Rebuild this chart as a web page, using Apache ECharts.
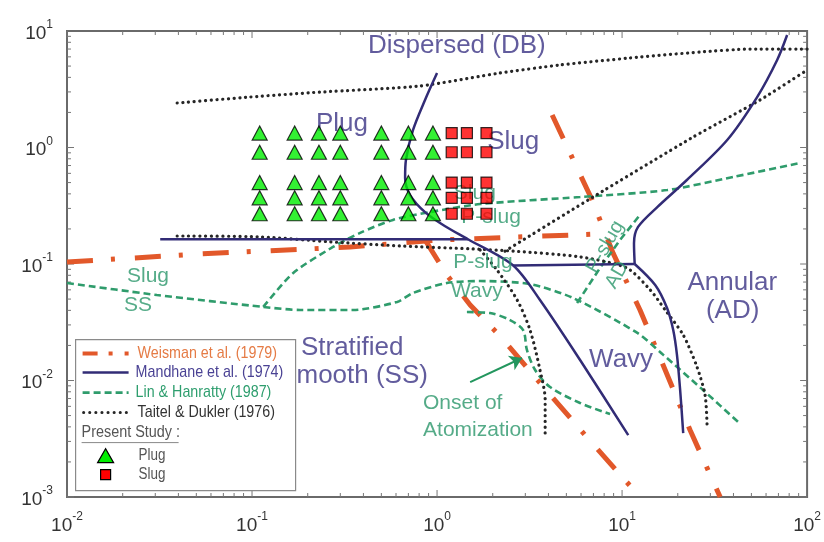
<!DOCTYPE html>
<html>
<head>
<meta charset="utf-8">
<script src="https://cdn.jsdelivr.net/npm/echarts@6/dist/echarts.min.js"></script>
<style>
  html, body { margin: 0; padding: 0; background: #fff; }
  #chart { width: 824px; height: 542px; }
</style>
</head>
<body>
<div id="chart"></div>
<script>
// ---- Axis decades (labels drawn as 10^n) ----
const xTickExponents = [-2, -1, 0, 1, 2];
const yTickExponents = [-3, -2, -1, 0, 1];

// ---- Weisman et al. (1979) boundaries ----
const weismanStratified = [[0.01, 0.104], [0.0524, 0.122], [0.339, 0.140], [1.04, 0.161], [7.6, 0.181]];
const weismanWavy = [[0.861, 0.161], [1.13, 0.0805], [1.51, 0.0445], [2.19, 0.0241], [3.60, 0.00953], [6.31, 0.0034], [12.5, 0.001]];
const weismanAnnular = [[4.19, 1.90], [6.89, 0.354], [8.94, 0.124], [12.5, 0.0403], [17.1, 0.0123], [23.3, 0.00376], [33.9, 0.001]];

// ---- Mandhane et al. (1974) boundaries ----
const mandhaneStratified = [[0.0319, 0.163], [1.47, 0.163]];
const mandhanePlugSlug = [[1.0, 4.36], [0.861, 2.56], [0.741, 1.41], [0.679, 0.782], [0.672, 0.547], [0.715, 0.391], [0.861, 0.279], [1.10, 0.212], [1.47, 0.163], [2.58, 0.097], [3.60, 0.0491], [5.93, 0.015], [10.8, 0.0034]];
const mandhaneSlugWavy = [[2.58, 0.097], [11.7, 0.100]];
const mandhaneAnnularUpper = [[11.7, 0.100], [11.6, 0.151], [12.2, 0.208], [15.5, 0.308], [22.4, 0.526], [37.0, 1.16], [53.7, 2.71], [68.9, 5.64], [78.0, 9.24]];
const mandhaneAnnularLower = [[11.7, 0.100], [15.1, 0.066], [17.5, 0.0419], [18.9, 0.0271], [19.8, 0.0166], [20.6, 0.00828], [21.4, 0.00354]];

// ---- Lin & Hanratty (1987) boundaries ----
const linStratified = [[0.01, 0.0687], [0.0306, 0.0542], [0.115, 0.0428], [0.182, 0.0403], [0.352, 0.0403], [0.608, 0.0472], [0.741, 0.0564], [1.13, 0.0687], [1.71, 0.0714], [3.18, 0.0673], [5.43, 0.0511], [12.1, 0.0256], [16.7, 0.0166], [27.4, 0.00828], [43.5, 0.00424]];
const linSlug = [[0.115, 0.0428], [0.167, 0.0838], [0.274, 0.140], [0.384, 0.185], [0.578, 0.239], [0.916, 0.279], [1.71, 0.327], [5.93, 0.376], [17.5, 0.431], [39.8, 0.558], [91.6, 0.736]];
const linAtomization = [[1.45, 0.0387], [1.93, 0.0379], [2.48, 0.033], [2.92, 0.0271], [3.06, 0.0183], [3.39, 0.0123], [4.08, 0.00879], [5.93, 0.00641], [8.61, 0.00515]];
const linPslugAnnular = [[5.71, 0.0462], [7.6, 0.0925], [9.75, 0.161], [12.5, 0.264]];

// ---- Taitel & Dukler (1976) boundaries ----
const taitelDispersed = [[0.0394, 2.41], [0.0975, 2.71], [0.233, 2.99], [0.809, 3.37], [2.19, 4.36], [4.62, 5.11], [11.0, 5.86], [26.4, 6.6], [49.2, 7.0], [100, 7.0]];
const taitelStratified = [[0.0394, 0.174], [0.110, 0.171], [0.264, 0.155], [0.631, 0.143], [1.51, 0.135], [2.58, 0.129], [5.93, 0.115], [10.6, 0.0925], [14.2, 0.0598], [17.1, 0.0403], [21.4, 0.0246], [25.4, 0.0131], [28.1, 0.0075], [28.8, 0.00415]];
const taitelAnnular = [[2.33, 0.129], [6.97, 0.376], [24.2, 1.23], [55.7, 2.56], [100, 4.62]];
const taitelWavy = [[1.71, 0.132], [2.11, 0.0887], [2.71, 0.0491], [3.18, 0.0271], [3.60, 0.0123], [3.84, 0.00681], [3.84, 0.00354]];

// ---- Present study test points ----
const plugX = [0.11, 0.17, 0.23, 0.30, 0.50, 0.70, 0.95];
const slugX = [1.2, 1.45, 1.85];
const pointY = [1.33, 0.91, 0.50, 0.37, 0.27];

// ---- Legend entries ----
const legendNames = ['Weisman et al. (1979)', 'Mandhane et al. (1974)', 'Lin & Hanratty (1987)', 'Taitel & Dukler (1976)'];
const studyNames = ['Present Study :', 'Plug', 'Slug'];

// ---- Colours ----
const C_ORANGE = '#e2582a';
const C_NAVY = '#322c76';
const C_NAVY_TXT = '#3b3385';
const C_GREEN = '#2f9c6c';
const C_GREEN_TXT = '#2a966a';
const C_DOT = '#262626';

const SANS = "'Liberation Sans', Arial, sans-serif";

function grid(arr) {
  const out = [];
  for (const y of pointY) for (const x of arr) out.push([x, y]);
  return out;
}

function expLabel(list) {
  return function (v) {
    const e = Math.round(Math.log10(v));
    if (list.indexOf(e) < 0) return '';
    return '{b|10}{s|' + e + '}';
  };
}

function lineSeries(data, color, width, dash, smooth, cap) {
  return {
    type: 'line', data: data, showSymbol: false, symbol: 'none', smooth: smooth || false,
    silent: true, z: 3,
    lineStyle: { color: color, width: width, type: dash, cap: cap || 'butt' }
  };
}

const DASHDOT = [26, 18, 4, 20];
const DASHED = [7, 4];
const DOTTED = [0.1, 5.6];

// annotation texts anchored in data space
function txt(text, x, y, color, size, extra) {
  return { value: [x, y], label: Object.assign({ formatter: text, color: color, fontSize: size, fontFamily: SANS }, extra || {}) };
}
const annotations = [
  txt('Dispersed (DB)', 1.28, 7.43, C_NAVY_TXT, 26),
  txt('Plug', 0.306, 1.59, C_NAVY_TXT, 26),
  txt('Slug', 2.58, 1.11, C_NAVY_TXT, 26),
  txt('Annular', 39.4, 0.0687, C_NAVY_TXT, 26),
  txt('(AD)', 39.6, 0.0396, C_NAVY_TXT, 26),
  txt('Wavy', 9.88, 0.015, C_NAVY_TXT, 26),
  txt('Stratified', 0.348, 0.019, C_NAVY_TXT, 26),
  txt('Smooth (SS)', 0.893, 0.0109, C_NAVY_TXT, 26, { align: 'right' }),
  txt('Slug', 0.0274, 0.0789, C_GREEN_TXT, 21),
  txt('SS', 0.0242, 0.0445, C_GREEN_TXT, 21),
  txt('Slug', 1.60, 0.406, C_GREEN_TXT, 21),
  txt('P-slug', 1.96, 0.253, C_GREEN_TXT, 21),
  txt('P-slug', 1.77, 0.104, C_GREEN_TXT, 21),
  txt('Wavy', 1.64, 0.0586, C_GREEN_TXT, 21),
  txt('P-slug', 8.09, 0.14, C_GREEN_TXT, 20, { rotate: 60 }),
  txt('AD', 9.4, 0.0805, C_GREEN_TXT, 20, { rotate: 60 }),
  txt('Onset of', 0.84, 0.00641, C_GREEN_TXT, 21, { align: 'left' }),
  txt('Atomization', 0.84, 0.00376, C_GREEN_TXT, 21, { align: 'left' })
];

const chart = echarts.init(document.getElementById('chart'), null, { renderer: 'canvas' });

const axisRich = {
  b: { fontSize: 19, color: '#333', fontFamily: SANS, lineHeight: 24, verticalAlign: 'bottom' },
  s: { fontSize: 12, color: '#333', fontFamily: SANS, verticalAlign: 'top', lineHeight: 14 }
};

// legend box sits above the plot layers
const LZ = 100;
function legText(x, y, text, fill, size, sx) {
  return { type: 'text', x: x, y: y, z: LZ + 2, scaleX: sx || 0.84, style: { text: text, fill: fill, font: (size || 17) + "px 'Liberation Sans', Arial, sans-serif", verticalAlign: 'middle' } };
}
function legShape(el) { el.z = LZ + 1; return el; }

const option = {
  animation: false,
  backgroundColor: '#ffffff',
  grid: { left: 67, right: 16, top: 31, bottom: 45, show: true, borderColor: '#6a6a6a', borderWidth: 2, backgroundColor: 'transparent' },
  xAxis: {
    type: 'log', logBase: 10, min: 0.01, max: 100, splitNumber: 4,
    axisLine: { show: false }, axisTick: { show: false }, splitLine: { show: false },
    axisLabel: { formatter: expLabel(xTickExponents), margin: 14, rich: axisRich }
  },
  yAxis: {
    type: 'log', logBase: 10, min: 0.001, max: 10, splitNumber: 4,
    axisLine: { show: false }, axisTick: { show: false }, splitLine: { show: false },
    axisLabel: { formatter: expLabel(yTickExponents), margin: 14, rich: axisRich }
  },
  series: [
    // tick marks on all four sides of the frame
    {
      type: 'custom', data: [[1, 1]], silent: true, z: 1,
      renderItem: function (params, api) {
        const cs = params.coordSys;
        const L = cs.x, T = cs.y, R = cs.x + cs.width, B = cs.y + cs.height;
        const st = { stroke: '#777', lineWidth: 1 };
        const kids = [];
        for (let e = -2; e < 2; e++) {
          for (let m = 1; m < 10; m++) {
            const px = api.coord([m * Math.pow(10, e), 1])[0];
            const len = m === 1 ? 7 : 4;
            kids.push({ type: 'line', shape: { x1: px, y1: B, x2: px, y2: B - len }, style: st });
            kids.push({ type: 'line', shape: { x1: px, y1: T, x2: px, y2: T + len }, style: st });
          }
        }
        for (let e = -3; e < 1; e++) {
          for (let m = 1; m < 10; m++) {
            const py = api.coord([1, m * Math.pow(10, e)])[1];
            const len = m === 1 ? 7 : 4;
            kids.push({ type: 'line', shape: { x1: L, y1: py, x2: L + len, y2: py }, style: st });
            kids.push({ type: 'line', shape: { x1: R, y1: py, x2: R - len, y2: py }, style: st });
          }
        }
        return { type: 'group', children: kids };
      }
    },
    lineSeries(weismanStratified, C_ORANGE, 5, DASHDOT),
    lineSeries(weismanWavy, C_ORANGE, 5, DASHDOT),
    lineSeries(weismanAnnular, C_ORANGE, 5, DASHDOT),
    lineSeries(linStratified, C_GREEN, 2.6, DASHED, 0.25),
    lineSeries(linSlug, C_GREEN, 2.6, DASHED, 0.25),
    lineSeries(linAtomization, C_GREEN, 2.6, DASHED, 0.3),
    lineSeries(linPslugAnnular, C_GREEN, 2.6, DASHED),
    lineSeries(taitelDispersed, C_DOT, 3.2, DOTTED, 0.2, 'round'),
    lineSeries(taitelStratified, C_DOT, 3.2, DOTTED, 0.25, 'round'),
    lineSeries(taitelAnnular, C_DOT, 3.2, DOTTED, 0.2, 'round'),
    lineSeries(taitelWavy, C_DOT, 3.2, DOTTED, 0.3, 'round'),
    lineSeries(mandhaneStratified, C_NAVY, 2.5, 'solid'),
    lineSeries(mandhanePlugSlug, C_NAVY, 2.5, 'solid', 0.3),
    lineSeries(mandhaneSlugWavy, C_NAVY, 2.5, 'solid'),
    lineSeries(mandhaneAnnularUpper, C_NAVY, 2.5, 'solid', 0.3),
    lineSeries(mandhaneAnnularLower, C_NAVY, 2.5, 'solid', 0.3),
    // region / boundary labels
    {
      type: 'scatter', data: annotations, symbolSize: 1, silent: true, z: 4,
      itemStyle: { color: 'rgba(0,0,0,0)' },
      label: { show: true, position: 'inside' },
      labelLayout: { hideOverlap: false }
    },
    // arrow to onset-of-atomization curve
    {
      type: 'lines', coordinateSystem: 'cartesian2d', silent: true, z: 4,
      symbol: ['none', 'arrow'], symbolSize: 12,
      lineStyle: { color: '#23965e', width: 2, opacity: 1, curveness: 0 },
      data: [{ coords: [[1.51, 0.0097], [2.88, 0.0156]] }]
    },
    {
      name: 'Plug', type: 'scatter', data: grid(plugX), symbol: 'triangle', symbolSize: [15, 14], z: 6,
      itemStyle: { color: '#00ee00', borderColor: '#000', borderWidth: 1.2 }
    },
    {
      name: 'Slug', type: 'scatter', data: grid(slugX), symbol: 'rect', symbolSize: 11, z: 6,
      itemStyle: { color: '#ff0000', borderColor: '#000', borderWidth: 1.2 }
    }
  ],
  graphic: [{
    type: 'group', left: 75, top: 339, z: LZ,
    children: [
      legShape({ type: 'rect', shape: { x: 0, y: 0, width: 220, height: 151 }, style: { fill: '#fff', stroke: '#8a8a8a', lineWidth: 1.2 } }),
      legShape({ type: 'line', shape: { x1: 7, y1: 14, x2: 55, y2: 14 }, style: { stroke: C_ORANGE, lineWidth: 4, lineDash: [15, 11, 4, 12, 4, 100] } }),
      legShape({ type: 'line', shape: { x1: 7, y1: 33, x2: 53, y2: 33 }, style: { stroke: C_NAVY, lineWidth: 2.5 } }),
      legShape({ type: 'line', shape: { x1: 7, y1: 53, x2: 53, y2: 53 }, style: { stroke: C_GREEN, lineWidth: 2.6, lineDash: [7, 4] } }),
      legShape({ type: 'line', shape: { x1: 8, y1: 73, x2: 53, y2: 73 }, style: { stroke: C_DOT, lineWidth: 3, lineDash: [0.1, 6], lineCap: 'round' } }),
      legText(62, 14, legendNames[0], '#e57b45'),
      legText(60, 33, legendNames[1], '#4a4294'),
      legText(60, 53, legendNames[2], '#2e9e6e'),
      legText(62, 73, legendNames[3], '#333'),
      legText(6, 93, studyNames[0], '#555', 16, 0.9),
      legShape({ type: 'line', shape: { x1: 6, y1: 103, x2: 103, y2: 103 }, style: { stroke: '#888', lineWidth: 1 } }),
      legShape({ type: 'polygon', shape: { points: [[22, 123], [38, 123], [30, 109]] }, style: { fill: '#00ee00', stroke: '#000', lineWidth: 1.2 } }),
      legText(63, 116, studyNames[1], '#555', 16),
      legShape({ type: 'rect', shape: { x: 25, y: 130, width: 10, height: 10 }, style: { fill: '#ff0000', stroke: '#000', lineWidth: 1.2 } }),
      legText(63, 135, studyNames[2], '#555', 16)
    ]
  }]
};

chart.setOption(option);
</script>
</body>
</html>
